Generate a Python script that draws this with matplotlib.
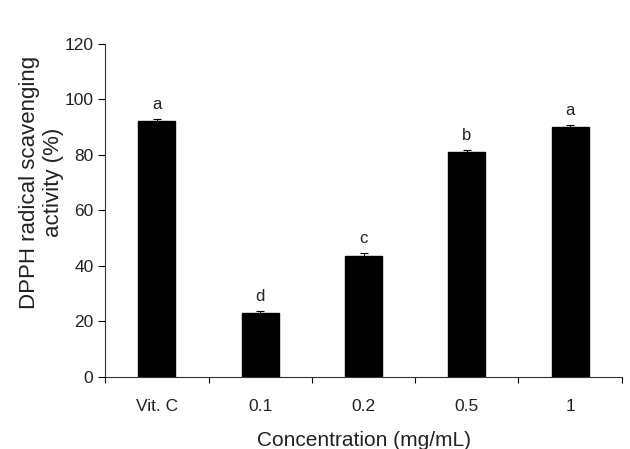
import numpy as np
import matplotlib.pyplot as plt

plt.rcParams['font.family'] = ['Liberation Sans', 'DejaVu Sans']

categories = ['Vit. C', '0.1', '0.2', '0.5', '1']
activity = [92.1, 22.9, 43.7, 81.1, 90.0]
errors = [0.9, 0.8, 0.9, 0.8, 0.9]
letters = ['a', 'd', 'c', 'b', 'a']

fig = plt.figure(figsize=(6.3, 4.49), dpi=100)
ax = fig.add_axes([0.167, 0.161, 0.82, 0.741])

x = np.arange(len(categories))
ax.bar(x, activity, width=0.36, color='black', edgecolor='black',
       yerr=errors, error_kw=dict(ecolor='black', elinewidth=0.8, capsize=3, capthick=0.8))

for xi, v, e, lab in zip(x, activity, errors, letters):
    ax.annotate(lab, (xi, v + e), xytext=(0, 5), textcoords='offset points',
                ha='center', va='bottom', fontsize=12, color='#222222')

ax.set_xlim(-0.5, len(categories) - 0.5)
ax.set_ylim(0, 120)
ax.set_yticks(range(0, 121, 20))
ax.set_xticks(x)
ax.set_xticklabels(categories)
ax.set_xticks(np.arange(-0.5, len(categories)), minor=True)
ax.tick_params(axis='x', which='major', length=0, pad=16, labelsize=12.5, labelcolor='#222222')
ax.tick_params(axis='x', which='minor', length=4, width=0.8, direction='out')
ax.tick_params(axis='y', length=5, width=0.8, direction='out', labelsize=12.5, labelcolor='#222222')

for s in ['top', 'right']:
    ax.spines[s].set_visible(False)
for s in ['left', 'bottom']:
    ax.spines[s].set_linewidth(0.8)
    ax.spines[s].set_color('#333333')

ax.set_xlabel('Concentration (mg/mL)', fontsize=15, labelpad=12, color='#222222')
ax.set_ylabel('DPPH radical scavenging\nactivity (%)', fontsize=16, color='#222222',
              multialignment='center')
ax.yaxis.set_label_coords(-0.08, 0.585)

fig.savefig('out.png', dpi=100)
